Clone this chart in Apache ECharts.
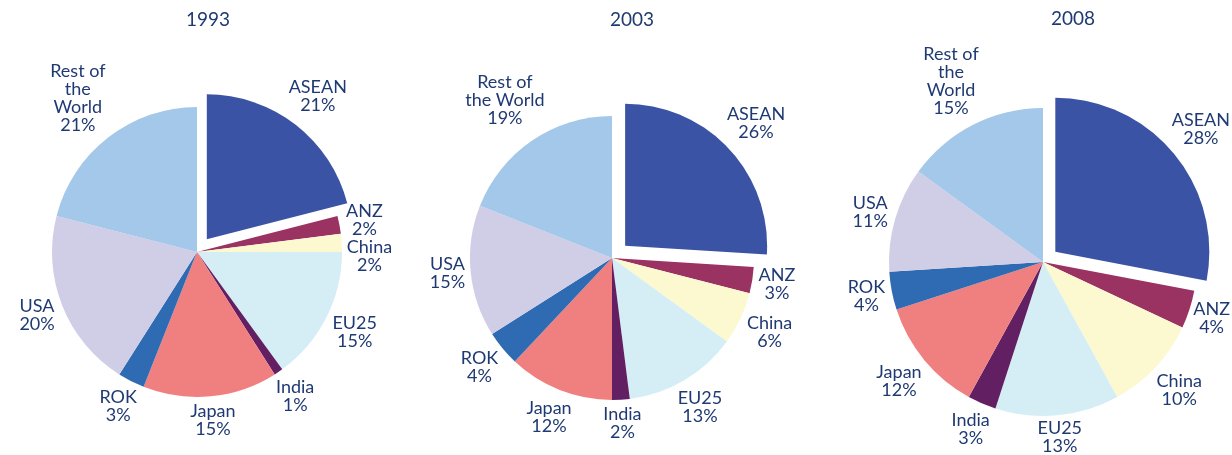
<!DOCTYPE html>
<html lang="en">
<head>
    <meta charset="UTF-8">
    <title>Trade shares 1993 / 2003 / 2008</title>
    <style>
        html, body { margin: 0; padding: 0; background: #fff; }
        #main { width: 1232px; height: 455px; }
    </style>
</head>
<body>
    <div id="main"></div>

    <script src="https://cdn.jsdelivr.net/npm/echarts@6/dist/echarts.min.js"></script>
    <script>
        // categories, same order in every pie (clockwise from 12 o'clock)
        var partners = ['ASEAN', 'ANZ', 'China', 'EU25', 'India', 'Japan', 'ROK', 'USA', 'Rest of the World'];
        // how the label text is broken in each pie
        var labels1993 = ['ASEAN', 'ANZ', 'China', 'EU25', 'India', 'Japan', 'ROK', 'USA', 'Rest of\nthe\nWorld'];
        var labels2003 = ['ASEAN', 'ANZ', 'China', 'EU25', 'India', 'Japan', 'ROK', 'USA', 'Rest of\nthe World'];
        var labels2008 = ['ASEAN', 'ANZ', 'China', 'EU25', 'India', 'Japan', 'ROK', 'USA', 'Rest of\nthe\nWorld'];

        var years = ['1993', '2003', '2008'];
        var share1993 = [21, 2, 2, 15, 1, 15, 3, 20, 21];
        var share2003 = [26, 3, 6, 13, 2, 12, 4, 15, 19];
        var share2008 = [28, 4, 10, 13, 3, 12, 4, 11, 15];

        var colors = ['#3b53a4', '#9a3262', '#fcf8cf', '#d5eef5', '#621f62', '#f08080', '#2f6bb3', '#d0cde6', '#a3c8ea'];
        var textColor = '#1f3a73';
        var font = 'Lato, "Open Sans", sans-serif';
        var labelSize = 18, labelLine = 18;

        // pie placement
        var W = 1232, H = 455;
        var pies = [
            { center: [197, 252], r: 145, offset: 16, title: [203, 16] },
            { center: [612, 258], r: 142, offset: 18, title: [627, 16] },
            { center: [1043, 262], r: 154, offset: 16, title: [1068, 15] }
        ];
        var allShares = [share1993, share2003, share2008];
        var allLabels = [labels1993, labels2003, labels2008];

        var chardom = document.getElementById('main');
        var mychart = echarts.init(chardom);

        // text measuring for the label boxes
        var ctx = document.createElement('canvas').getContext('2d');
        ctx.font = labelSize + 'px ' + font;
        function boxOf(text) {
            var lines = text.split('\n');
            var w = 0;
            lines.forEach(function (l) { w = Math.max(w, ctx.measureText(l).width); });
            return { w: w, h: lines.length * labelLine };
        }

        // labels sit just outside each slice, along its middle angle
        function labelGraphics(k) {
            var p = pies[k], vals = allShares[k];
            var total = vals.reduce(function (a, b) { return a + b; }, 0);
            var before = 0, boxes = [];
            vals.forEach(function (v, i) {
                var mid = (before + v / 2) / total * Math.PI * 2;
                before += v;
                var ux = Math.sin(mid), uy = -Math.cos(mid);
                var text = allLabels[k][i] + '\n' + v + '%';
                var b = boxOf(text);
                var d = p.r + (i === 0 ? p.offset : 0) + 4 + Math.abs(ux) * b.w / 2 + Math.abs(uy) * b.h / 2;
                var x = p.center[0] + ux * d, y = p.center[1] + uy * d;
                // keep inside the canvas
                x = Math.min(Math.max(x, b.w / 2 + 2), W - b.w / 2 - 2);
                y = Math.min(Math.max(y, b.h / 2), H - b.h / 2);
                var box = { x: x, y: y, w: b.w, h: b.h, ux: ux, text: text };
                // push apart from the previous label when they collide
                var prev = boxes[boxes.length - 1];
                if (prev && Math.abs(prev.x - x) < (prev.w + b.w) / 2 && Math.abs(prev.y - y) < (prev.h + b.h) / 2) {
                    if (ux > 0) box.y = prev.y + (prev.h + b.h) / 2;
                    else box.y = prev.y - (prev.h + b.h) / 2;
                }
                boxes.push(box);
            });
            return boxes.map(function (b) {
                return {
                    type: 'text',
                    z: 100,
                    style: {
                        text: b.text,
                        x: b.x,
                        y: b.y,
                        align: 'center',
                        verticalAlign: 'middle',
                        fontFamily: font,
                        fontSize: labelSize,
                        lineHeight: labelLine,
                        fill: textColor
                    }
                };
            });
        }

        var titles = [], series = [], graphics = [];
        years.forEach(function (yr, k) {
            var p = pies[k];
            titles.push({
                text: yr,
                left: p.title[0],
                top: p.title[1] - 11,
                textAlign: 'center',
                textStyle: { fontFamily: font, fontSize: 19, fontWeight: 'normal', color: textColor }
            });
            series.push({
                name: yr,
                type: 'pie',
                center: p.center,
                radius: p.r,
                startAngle: 90,
                clockwise: true,
                selectedMode: 'single',
                selectedOffset: p.offset,
                animation: false,
                itemStyle: { borderWidth: 0 },
                emphasis: { disabled: true },
                label: { show: false },
                labelLine: { show: false },
                data: partners.map(function (name, i) {
                    return {
                        name: name,
                        value: allShares[k][i],
                        selected: i === 0,
                        itemStyle: { color: colors[i] }
                    };
                })
            });
            graphics = graphics.concat(labelGraphics(k));
        });

        var option = {
            backgroundColor: '#ffffff',
            title: titles,
            tooltip: { show: false },
            graphic: graphics,
            series: series
        };
        option && mychart.setOption(option);
    </script>
</body>
</html>
